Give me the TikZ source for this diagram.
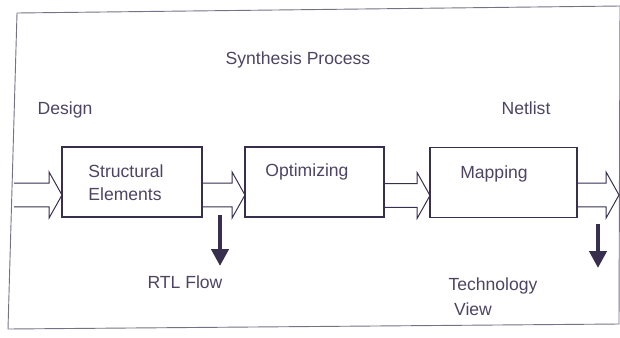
\documentclass[tikz,border=0pt]{standalone}
\usepackage{fontspec}
\setmainfont{Liberation Sans}
\usepackage{tikz}
\usetikzlibrary{arrows.meta,calc,positioning}

\definecolor{ink}{RGB}{56,46,78}
\definecolor{pen}{RGB}{78,68,98}
\definecolor{rim}{RGB}{120,112,132}

\tikzset{
  stage/.style={draw=ink, line width=0.75pt, inner sep=0pt, outer sep=0pt,
    minimum height=1.75cm},
  caption/.style={text=pen, font=\fontsize{12.5}{15.5}\selectfont, inner sep=0pt},
  flow/.style={draw=ink, line width=0.7pt, line join=miter},
  drop/.style={draw=ink, line width=3.4pt, -{Triangle[length=12pt,width=12pt]}}
}

% hollow block arrow from the x of #1 to the tip #2
\newcommand{\hollowarrow}[2]{%
  \draw[flow] let \p1=(#1), \p2=(#2) in
    (\x1,\y2+8.5pt) -- (\x2-9.2pt,\y2+8.5pt) -- (\x2-9.2pt,\y2+16.4pt)
    -- (\x2,\y2) -- (\x2-9.2pt,\y2-16.4pt) -- (\x2-9.2pt,\y2-8.5pt)
    -- (\x1,\y2-8.5pt);}

\begin{document}
\begin{tikzpicture}[x=0.025cm, y=-0.025cm]
\useasboundingbox (0,0) rectangle (620,337);

% outer frame
\draw[rim, line width=0.65pt] (17,13) -- (620,6) -- (619,324) -- (8,329) -- cycle;

% the three stages
\node[stage, minimum width=3.5cm] (struct) at (132,182) {};
\node[stage, minimum width=3.475cm] (optim) at (314.5,182) {};
\node[stage, minimum width=3.675cm] (mapping) at (503.5,182.5) {};

\node[caption, align=left] (structtxt) at (126,183) {Structural\\[1pt]Elements};
\node[caption] (optimtxt) at (307,172) {Optimizing};
\node[caption] (mappingtxt) at (494,174) {Mapping};

% headings and outputs
\node[caption] (title) at (298,60) {Synthesis Process};
\node[caption] (design) at (65,110) {Design};
\node[caption] (netlist) at (526,108) {Netlist};
\node[caption] (rtl) at (185,282) {RTL Flow};
\node[caption, align=left] (techview) at (493,297) {Technology\\[2pt]\hspace*{4pt}View};

% block arrows along the flow
\coordinate (design in) at (14,195);
\coordinate (net out) at (619,195);
\hollowarrow{design in}{$(struct.west)+(0,13)$}
\hollowarrow{struct.east}{$(optim.west)+(0,13)$}
\hollowarrow{optim.east}{$(mapping.west)+(0,13)$}
\hollowarrow{mapping.east}{net out}

% side outputs
\coordinate (rtl top) at (220,215);
\coordinate (rtl end) at (220,266);
\coordinate (tech top) at (598,224);
\coordinate (tech end) at (598,268);
\draw[drop] (rtl top) -- (rtl end);
\draw[drop] (tech top) -- (tech end);
\end{tikzpicture}
\end{document}
